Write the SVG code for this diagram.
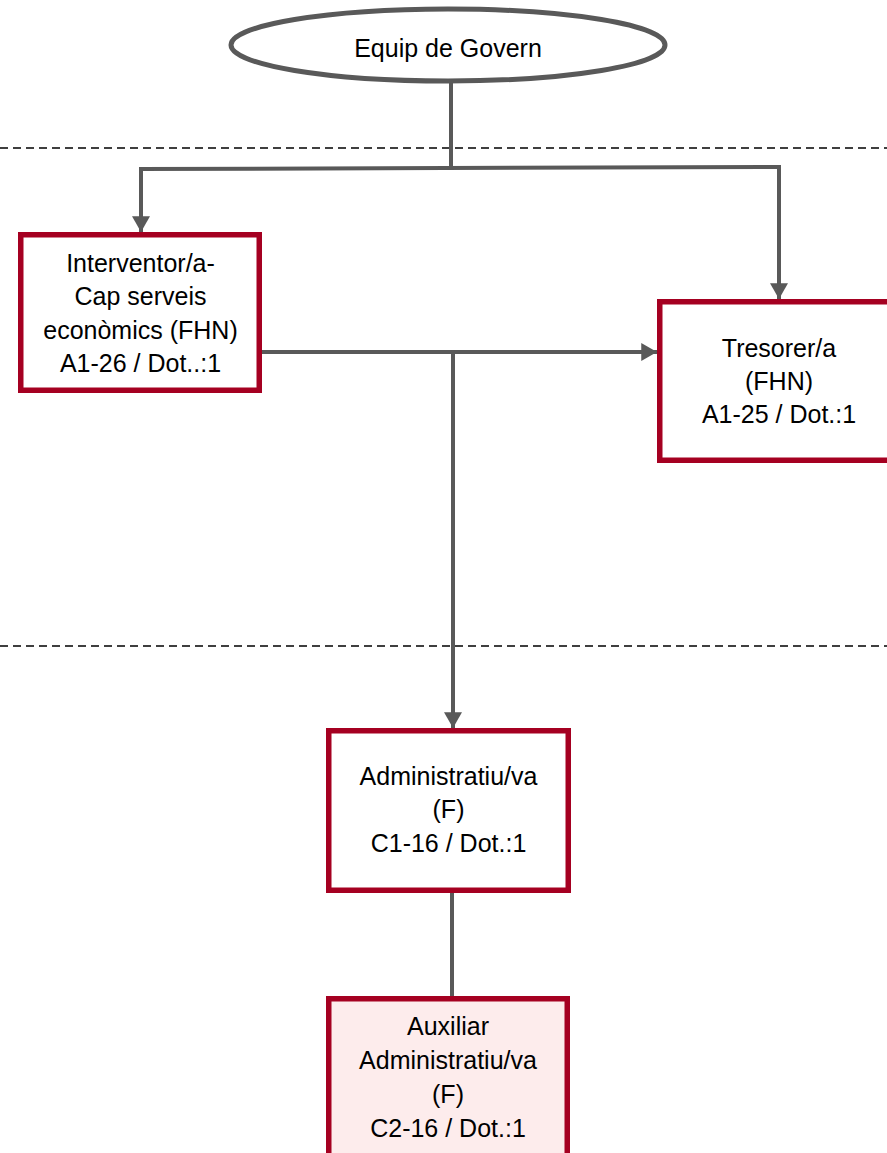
<svg xmlns="http://www.w3.org/2000/svg" width="887" height="1153" viewBox="0 0 887 1153">
<style>
.t{font-family:"Liberation Sans",Arial,sans-serif;font-size:25px;fill:#000;text-anchor:middle}
.box{fill:#fff;stroke:#A50021;stroke-width:5.5}
.pink{fill:#FDECEC}
.c{fill:none;stroke:#595959;stroke-width:4}
.dash{fill:none;stroke:#000;stroke-width:1.6;stroke-dasharray:8 5}
</style>
<defs>
<marker id="ah" markerUnits="userSpaceOnUse" markerWidth="18" markerHeight="18" viewBox="0 0 14 16" refX="14" refY="8" orient="auto">
<path d="M0,0 L14,8 L0,16 Z" fill="#595959"/>
</marker>
</defs>
<rect width="887" height="1153" fill="#fff"/>
<line class="dash" x1="0" y1="148" x2="887" y2="148"/>
<line class="dash" x1="0" y1="646" x2="887" y2="646"/>
<g id="connectors">
<polyline class="c" points="451,83 451,168"/>
<polyline class="c" points="139,169 781,167"/>
<polyline class="c" points="141,169 141,232" marker-end="url(#ah)"/>
<polyline class="c" points="779,167 779,299" marker-end="url(#ah)"/>
<polyline class="c" points="262,352 657,352" marker-end="url(#ah)"/>
<polyline class="c" points="453,352 453,728" marker-end="url(#ah)"/>
<polyline class="c" points="452,893 452,996"/>
</g>
<g id="equip">
<ellipse cx="448" cy="45" rx="217" ry="36" fill="#fff" stroke="#595959" stroke-width="5"/>
<text class="t" x="448" y="57">Equip de Govern</text>
</g>
<g id="interventor">
<rect class="box" x="20.75" y="234.75" width="238.5" height="155.5"/>
<text class="t" x="140.5" y="272">Interventor/a-</text>
<text class="t" x="140.5" y="305">Cap serveis</text>
<text class="t" x="140.5" y="339">econòmics (FHN)</text>
<text class="t" x="140.5" y="372">A1-26 / Dot..:1</text>
</g>
<g id="tresorer">
<rect class="box" x="659.75" y="301.75" width="238.5" height="158.5"/>
<text class="t" x="779" y="357">Tresorer/a</text>
<text class="t" x="779" y="390">(FHN)</text>
<text class="t" x="779" y="423">A1-25 / Dot.:1</text>
</g>
<g id="administratiu">
<rect class="box" x="328.75" y="730.75" width="239.5" height="159.5"/>
<text class="t" x="448.5" y="785">Administratiu/va</text>
<text class="t" x="448.5" y="818">(F)</text>
<text class="t" x="448.5" y="852">C1-16 / Dot.:1</text>
</g>
<g id="auxiliar">
<rect class="box pink" x="328.75" y="998.75" width="238.5" height="170"/>
<text class="t" x="448" y="1035">Auxiliar</text>
<text class="t" x="448" y="1069">Administratiu/va</text>
<text class="t" x="448" y="1103">(F)</text>
<text class="t" x="448" y="1137">C2-16 / Dot.:1</text>
</g>
</svg>
